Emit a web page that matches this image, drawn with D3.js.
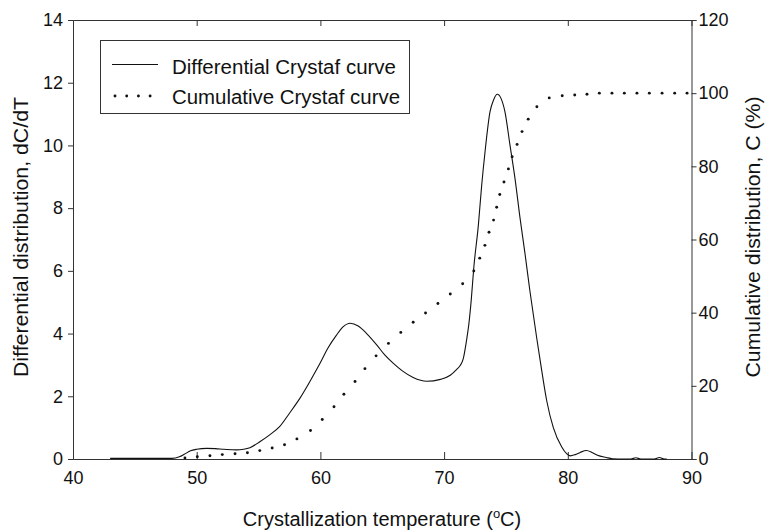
<!DOCTYPE html>
<html>
<head>
<meta charset="utf-8">
<script src="https://cdn.jsdelivr.net/npm/d3@7"></script>
<style>
  html, body { margin: 0; padding: 0; background: #fff; }
  svg { display: block; }
  text { font-family: "Liberation Sans", Arial, Helvetica, sans-serif; fill: #111; }
</style>
</head>
<body>
<svg id="chart" width="767" height="530"></svg>
<script>
// Differential Crystaf curve: temperature (°C) and dC/dT
const diffTemp = [43.0, 44.0, 45.0, 46.0, 47.0, 48.0, 48.6, 49.0, 49.5, 50.0, 50.8, 51.5, 52.2, 53.2, 53.8, 54.3,
  55.1, 55.9, 56.7, 57.5, 58.35, 59.15, 59.97, 60.6, 61.3, 61.85, 62.4, 63.06, 63.74, 64.55, 65.2, 65.9,
  66.6, 67.5, 68.6, 69.7, 70.5, 71.0, 71.3, 71.55, 71.8, 72.0, 72.2, 72.4, 72.77, 73.04, 73.31, 73.71,
  74.0, 74.3, 74.6, 74.92, 75.33, 75.73, 76.14, 76.54, 76.94, 77.49, 77.9, 78.3, 78.83, 79.5,
  79.9, 80.2, 80.6, 81.0, 81.5, 82.0, 82.4, 83.1, 83.6, 84.5, 85.1, 85.5, 85.9, 87.0, 87.4, 87.8, 88.0];
const diffValue = [0.02, 0.02, 0.02, 0.02, 0.02, 0.02, 0.07, 0.15, 0.26, 0.31, 0.34, 0.33, 0.31, 0.29, 0.31, 0.36,
  0.55, 0.77, 1.03, 1.46, 1.94, 2.47, 3.05, 3.53, 3.95, 4.22, 4.33, 4.24, 4.0, 3.64, 3.32, 3.05,
  2.82, 2.6, 2.48, 2.54, 2.67, 2.85, 2.98, 3.2, 3.75, 4.3, 5.1, 6.1, 7.46, 8.74, 9.8, 11.07,
  11.45, 11.63, 11.5, 11.07, 10.0, 8.95, 7.68, 6.55, 5.35, 3.85, 2.8, 1.85, 1.0, 0.39,
  0.17, 0.1, 0.14, 0.21, 0.27, 0.2, 0.12, 0.05, 0.01, 0.0, 0.0, 0.04, 0.0, 0.0, 0.05, 0.0, 0.0];

// Cumulative Crystaf curve: temperature (°C) and C (%)
const cumTemp = [49.05, 50.05, 51.07, 52.07, 53.1, 54.1, 55.1, 56.1, 57.1, 58.1, 59.2, 60.15, 61.1, 61.9, 62.8,
  63.6, 64.5, 65.5, 66.5, 67.5, 68.5, 69.5, 70.5, 71.5, 72.4, 72.88, 73.3, 73.63, 74.0, 74.25, 74.5,
  74.84, 75.2, 75.5, 75.9, 76.3, 76.8, 77.5, 78.5, 79.55, 80.56, 81.55, 82.55, 83.57, 84.57, 85.59,
  86.59, 87.62, 88.64, 89.64];
const cumValue = [0.3, 0.6, 0.9, 1.2, 1.45, 1.7, 2.3, 3.0, 3.9, 5.5, 7.8, 10.8, 14.3, 17.7, 21.2,
  24.7, 28.2, 31.6, 34.6, 37.4, 39.9, 42.5, 45.1, 47.9, 51.4, 54.9, 58.4, 62.0, 65.3, 68.8, 72.3,
  75.7, 79.3, 82.6, 86.0, 89.5, 92.9, 96.3, 98.7, 99.3, 99.5, 99.7, 100, 100, 100, 100,
  100, 100, 100, 100];

// Tick values
const xTicks = [40, 50, 60, 70, 80, 90];
const yLeftTicks = [0, 2, 4, 6, 8, 10, 12, 14];
const yRightTicks = [0, 20, 40, 60, 80, 100, 120];

// Legend entries
const legendLabels = ["Differential Crystaf curve", "Cumulative Crystaf curve"];

const svg = d3.select("#chart");
const frame = { left: 73, right: 691.5, top: 20, bottom: 459 };

const x = d3.scaleLinear().domain([40, 90]).range([frame.left, frame.right]);
const yL = d3.scaleLinear().domain([0, 14]).range([frame.bottom, frame.top]);
const yR = d3.scaleLinear().domain([0, 120]).range([frame.bottom, frame.top]);

const axisColor = "#333";

// Bottom axis: ticks point inward, labels below
const gx = svg.append("g").attr("transform", `translate(0,${frame.bottom})`)
  .call(d3.axisBottom(x).tickValues(xTicks).tickSize(-7).tickPadding(12).tickFormat(d3.format("d")));
// Top axis: inward ticks, no labels
const gt = svg.append("g").attr("transform", `translate(0,${frame.top})`)
  .call(d3.axisTop(x).tickValues(xTicks).tickSize(-6).tickFormat(""));
// Left axis
const gl = svg.append("g").attr("transform", `translate(${frame.left},0)`)
  .call(d3.axisLeft(yL).tickValues(yLeftTicks).tickSize(5).tickPadding(5).tickFormat(d3.format("d")));
// Right axis
const gr = svg.append("g").attr("transform", `translate(${frame.right},0)`)
  .call(d3.axisRight(yR).tickValues(yRightTicks).tickSize(5).tickPadding(2).tickFormat(d3.format("d")));

[gx, gt, gl, gr].forEach(g => {
  g.select(".domain").attr("stroke", axisColor).attr("stroke-width", 1);
  g.selectAll(".tick line").attr("stroke", axisColor).attr("stroke-width", 1);
  g.selectAll(".tick text").attr("font-size", 18).attr("font-family", "Liberation Sans, Arial, sans-serif").attr("fill", "#111");
});
// Hide the edge ticks that coincide with the frame
gx.selectAll(".tick line").filter(d => d === 40 || d === 90).remove();
gt.selectAll(".tick line").filter(d => d === 40 || d === 90).remove();

// Differential curve
const line = d3.line()
  .x((d, i) => x(diffTemp[i]))
  .y((d, i) => yL(diffValue[i]))
  .curve(d3.curveMonotoneX);
svg.append("path")
  .datum(diffValue)
  .attr("d", line)
  .attr("fill", "none")
  .attr("stroke", "#111")
  .attr("stroke-width", 1.1);

// Cumulative curve drawn as dots
svg.append("g").selectAll("circle")
  .data(cumValue)
  .join("circle")
  .attr("cx", (d, i) => x(cumTemp[i]))
  .attr("cy", d => yR(d))
  .attr("r", 1.45)
  .attr("fill", "#111");

// Legend
const lg = svg.append("g");
lg.append("rect")
  .attr("x", 100.5).attr("y", 40.5).attr("width", 309).attr("height", 73)
  .attr("fill", "#fff").attr("stroke", axisColor).attr("stroke-width", 1);
lg.append("line")
  .attr("x1", 112).attr("x2", 158).attr("y1", 64.5).attr("y2", 64.5)
  .attr("stroke", "#111").attr("stroke-width", 1);
lg.append("g").selectAll("circle")
  .data([0, 1, 2, 3])
  .join("circle")
  .attr("cx", d => 115 + d * 11.7)
  .attr("cy", 96)
  .attr("r", 1.45)
  .attr("fill", "#111");
lg.selectAll("text.lab")
  .data(legendLabels)
  .join("text")
  .attr("class", "lab")
  .attr("x", 172)
  .attr("y", (d, i) => 73.5 + i * 30)
  .attr("font-size", 20)
  .attr("textLength", (d, i) => i === 0 ? 224 : 228)
  .attr("lengthAdjust", "spacingAndGlyphs")
  .text(d => d);

// Axis titles
const xt = svg.append("text")
  .attr("x", 382).attr("y", 526)
  .attr("text-anchor", "middle")
  .attr("font-size", 20);
xt.append("tspan").text("Crystallization temperature (");
xt.append("tspan").attr("font-size", 13).attr("dy", -8).text("o");
xt.append("tspan").attr("dy", 8).text("C)");

svg.append("text")
  .attr("transform", "translate(28,237) rotate(-90)")
  .attr("text-anchor", "middle")
  .attr("font-size", 20)
  .attr("textLength", 280)
  .attr("lengthAdjust", "spacingAndGlyphs")
  .text("Differential distribution, dC/dT");

svg.append("text")
  .attr("transform", "translate(760,237) rotate(-90)")
  .attr("text-anchor", "middle")
  .attr("font-size", 20)
  .attr("textLength", 281)
  .attr("lengthAdjust", "spacingAndGlyphs")
  .text("Cumulative distribution, C (%)");
</script>
</body>
</html>
